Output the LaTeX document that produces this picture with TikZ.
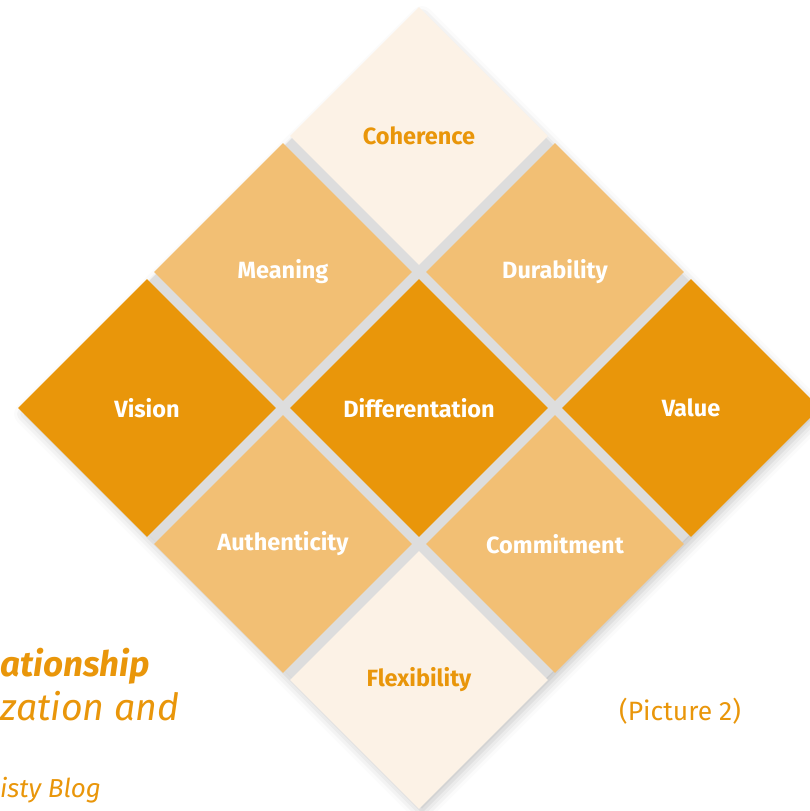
\documentclass[tikz,border=0pt]{standalone}
\usepackage{fontspec}
\setmainfont{Fira Sans}
\usetikzlibrary{shapes.geometric,shadows.blur}
\definecolor{cDark}{HTML}{E9960A}
\definecolor{cMid}{HTML}{F2BF74}
\definecolor{cLight}{HTML}{FCF2E6}
\definecolor{cGap}{HTML}{DDDDDD}
\begin{document}
\begin{tikzpicture}[x=1pt,y=-1pt,
  tile/.style={diamond, minimum width=258pt, minimum height=258pt, inner sep=0pt,
    font=\fontsize{23.5}{26}\selectfont\bfseries},
  darktile/.style={tile, fill=cDark, text=white},
  midtile/.style={tile, fill=cMid, text=white},
  lighttile/.style={tile, fill=cLight, text=cDark},
  caption/.style={text=cDark, anchor=base west, inner sep=0pt}]
\useasboundingbox (0,0) rectangle (810,811);
% grey underlay that shows through the gaps, with a soft outer shadow
\fill[cGap, blur shadow={shadow xshift=3pt, shadow yshift=-6pt, shadow blur radius=11pt, shadow opacity=25}]
  (419,11) -- (816,408) -- (419,805) -- (22,408) -- cycle;
% the nine tiles
\node[lighttile] (coh)  at (419,136) {Coherence};
\node[midtile]   (mean) at (283,272) {Meaning};
\node[midtile]   (dur)  at (555,272) {Durability};
\node[darktile]  (vis)  at (147,408) {Vision};
\node[darktile]  (diff) at (419,408) {Differentation};
\node[darktile]  (val)  at (691,408) {Value};
\node[midtile]   (auth) at (283,544) {Authenticity};
\node[midtile]   (com)  at (555,544) {Commitment};
\node[lighttile] (flex) at (419,680) {Flexibility};
% captions
\node[caption, font=\fontsize{35}{40}\selectfont\bfseries\itshape] (cap1) at (0,676) {ationship};
\node[caption, font=\fontsize{37.5}{42}\selectfont\itshape] (cap2) at (0,720) {zation and};
\node[caption, font=\fontsize{26}{30}\selectfont\itshape] (cap3) at (0,797) {isty Blog};
\node[caption, font=\fontsize{26.5}{30}\selectfont] (pic) at (619,720) {(Picture 2)};
\end{tikzpicture}
\end{document}
